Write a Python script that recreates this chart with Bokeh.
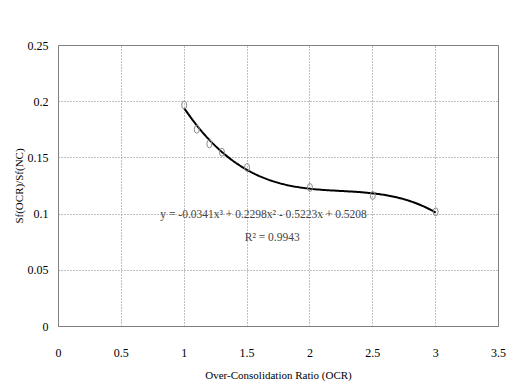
import numpy as np
from bokeh.plotting import figure
from bokeh.models import Range1d, FixedTicker, Label
from bokeh.embed import file_html
from bokeh.resources import INLINE

# Data
ocr = [1.0, 1.1, 1.2, 1.3, 1.5, 2.0, 2.5, 3.0]
sf_ratio = [0.197, 0.1755, 0.1625, 0.155, 0.1415, 0.1237, 0.1166, 0.1020]
# Trendline coefficients (shown in the chart): y = a x^3 + b x^2 + c x + d
trend_coef = [-0.0341, 0.2298, -0.5223, 0.5208]
x_ticks = [0, 0.5, 1, 1.5, 2, 2.5, 3, 3.5]
y_ticks = [0, 0.05, 0.1, 0.15, 0.2, 0.25]
title_text = "Relationship between OCR and Sf(OCR)/Sf(NC)"

FONT = "Liberation Serif"

p = figure(width=511, height=383, output_backend="svg", toolbar_location=None,
           x_range=Range1d(0, 3.5), y_range=Range1d(0, 0.25),
           min_border_left=58, min_border_right=13, min_border_top=45, min_border_bottom=55)

p.background_fill_color = "white"
p.border_fill_color = "white"
p.outline_line_color = "#808080"
p.outline_line_width = 1

for ax in (p.xaxis[0], p.yaxis[0]):
    ax.axis_line_color = "#808080"
    ax.major_tick_line_color = None
    ax.minor_tick_line_color = None
    ax.major_tick_in = 0
    ax.major_tick_out = 0
    ax.minor_tick_in = 0
    ax.minor_tick_out = 0
    ax.major_label_text_font = FONT
    ax.major_label_text_font_size = "12px"
    ax.major_label_text_color = "black"
    ax.axis_label_text_font = FONT
    ax.axis_label_text_font_size = "11px"
    ax.axis_label_text_font_style = "normal"
    ax.axis_label_text_color = "black"

p.xaxis.ticker = FixedTicker(ticks=x_ticks)
p.yaxis.ticker = FixedTicker(ticks=y_ticks)
p.xaxis.major_label_standoff = 22
p.yaxis.major_label_standoff = 10
p.xaxis.axis_label = "Over-Consolidation Ratio (OCR)"
p.yaxis.axis_label = "Sf(OCR)/Sf(NC)"
p.xaxis.axis_label_standoff = 9
p.yaxis.axis_label_standoff = 0

p.xgrid.grid_line_color = "#808080"
p.ygrid.grid_line_color = "#808080"
p.xgrid.grid_line_dash = "1 2"
p.ygrid.grid_line_dash = "1 2"
p.xgrid.grid_line_width = 1
p.ygrid.grid_line_width = 1

# Trendline
xs = np.linspace(min(ocr), max(ocr), 200)
ys = np.polyval(trend_coef, xs)
p.line(xs, ys, line_color="black", line_width=2)

# Data markers
p.ellipse(x=ocr, y=sf_ratio, width=5, height=8, width_units="screen", height_units="screen",
          fill_color=None, line_color="#8c8c8c", line_width=1)

# Title placed above the plot frame
ttl = Label(x=1.585, y=0.2712, text=title_text, text_font=FONT, text_font_size="11.5px",
            text_baseline="middle", text_align="center", text_color="black")
p.add_layout(ttl)

eq = Label(x=0.81, y=0.0998, text="y = -0.0341x³ + 0.2298x² - 0.5223x + 0.5208",
           text_font=FONT, text_font_size="11.5px", text_baseline="middle", text_align="left")
r2 = Label(x=1.7, y=0.080, text="R² = 0.9943",
           text_font=FONT, text_font_size="11.5px", text_baseline="middle", text_align="center")
p.add_layout(eq)
p.add_layout(r2)

open("out.html", "w").write(file_html(p, INLINE))
